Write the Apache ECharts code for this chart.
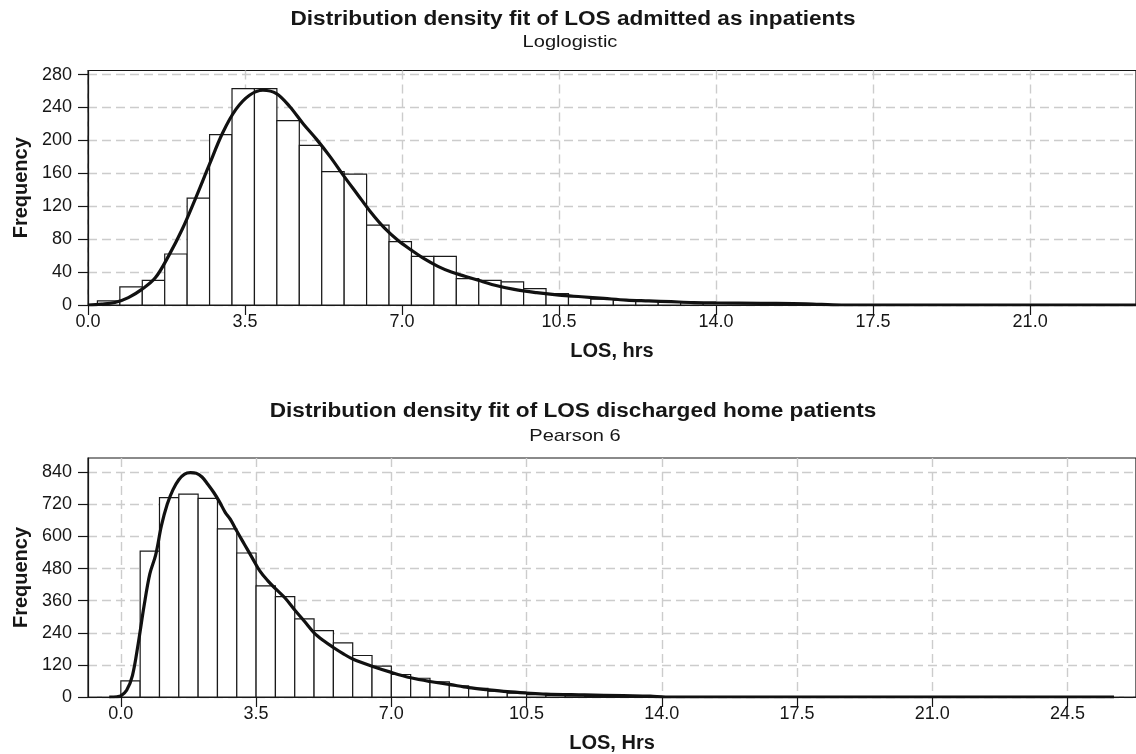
<!DOCTYPE html>
<html>
<head>
<meta charset="utf-8">
<script src="https://cdn.jsdelivr.net/npm/echarts@6/dist/echarts.min.js"></script>
<style>
html,body{margin:0;padding:0;background:#fff;}
#chart{width:1136px;height:754px;}
</style>
</head>
<body>
<div id="chart"></div>
<script>
// ---------- Data ----------
// Top panel: LOS admitted as inpatients (Loglogistic fit)
var topBinEdges = [0.21, 0.71, 1.21, 1.71, 2.21, 2.71, 3.21, 3.71, 4.21, 4.71, 5.21, 5.71, 6.21, 6.71,
                   7.21, 7.71, 8.21, 8.71, 9.21, 9.71, 10.21, 10.71, 11.21, 11.71, 12.21, 12.71, 13.21, 13.71];
var topCounts = [5, 22, 30, 62, 130, 207, 263, 263, 224, 194, 162, 159, 97, 77,
                 59, 59, 32, 30, 28, 20, 14, 10, 7, 6, 5, 4, 3];
var topFitX = [0, 0.3, 0.6, 0.9, 1.2, 1.5, 1.8, 2.1, 2.4, 2.7, 3.0, 3.3, 3.6, 3.9, 4.2, 4.5, 4.8, 5.1, 5.4, 5.7,
               6.0, 6.3, 6.6, 6.9, 7.2, 7.5, 7.8, 8.1, 8.4, 8.7, 9.0, 9.5, 10.0, 10.5, 11.0, 11.5, 12.0, 12.5,
               13.0, 13.5, 14.0, 15.0, 16.0, 16.8, 23.4];
var topFitY = [0, 1, 3, 9, 19, 33, 60, 92, 130, 170, 209, 238, 255, 261, 257, 241, 220, 201, 180, 157,
               135, 113, 94, 79, 67, 56, 47, 40, 35, 30, 25, 19, 15, 12, 10, 8, 6, 5,
               4, 3, 2.5, 2, 1.5, 0, 0];
var topXTicks = [0, 3.5, 7, 10.5, 14, 17.5, 21];
var topYTicks = [0, 40, 80, 120, 160, 200, 240, 280];

// Bottom panel: LOS discharged home patients (Pearson 6 fit)
var botBinEdges = [0, 0.5, 1, 1.5, 2, 2.5, 3, 3.5, 4, 4.5, 5, 5.5, 6, 6.5, 7, 7.5, 8, 8.5, 9, 9.5,
                   10, 10.5, 11, 11.5, 12, 12.5, 13, 13.5, 14];
var botCounts = [60, 545, 745, 758, 742, 628, 538, 415, 375, 292, 248, 202, 155, 115, 84, 70, 57, 42, 32, 22,
                 14, 9, 6, 5, 4, 3, 2, 2];
var botFitX = [-0.3, -0.1, 0, 0.15, 0.3, 0.45, 0.6, 0.75, 0.9, 1.05, 1.2, 1.35, 1.5, 1.65, 1.8, 1.95, 2.1, 2.25,
               2.4, 2.55, 2.7, 2.85, 3.0, 3.2, 3.4, 3.6, 3.8, 4.0, 4.25, 4.5, 4.75, 5.0, 5.25, 5.5, 5.75,
               6.0, 6.5, 7.0, 7.5, 8.0, 8.5, 9.0, 9.5, 10.0, 10.5, 11.0, 12.0, 13.0, 13.7, 14.1, 25.7];
var botFitY = [0, 1, 4, 25, 80, 200, 340, 460, 530, 640, 720, 775, 812, 833, 838, 836, 822, 795,
               765, 730, 690, 660, 620, 570, 520, 470, 435, 405, 370, 325, 283, 240, 210, 185, 162,
               142, 115, 92, 72, 58, 47, 35, 27, 20, 15, 11, 8, 5, 3, 0, 0];
var botXTicks = [0, 3.5, 7, 10.5, 14, 17.5, 21, 24.5];
var botYTicks = [0, 120, 240, 360, 480, 600, 720, 840];

var titles = ['Distribution density fit of LOS admitted as inpatients', 'Loglogistic',
              'Distribution density fit of LOS discharged home patients', 'Pearson 6'];

// ---------- Build ----------
function histData(edges, counts) {
  var out = [];
  for (var i = 0; i < counts.length; i++) out.push([edges[i], edges[i + 1], counts[i]]);
  return out;
}
function pairs(xs, ys) {
  var out = [];
  for (var i = 0; i < xs.length; i++) out.push([xs[i], ys[i]]);
  return out;
}
function renderBin(params, api) {
  var p0 = api.coord([api.value(0), 0]);
  var p1 = api.coord([api.value(1), api.value(2)]);
  return {
    type: 'rect',
    shape: { x: p0[0], y: p1[1], width: p1[0] - p0[0], height: p0[1] - p1[1] },
    style: { fill: '#ffffff', stroke: '#1a1a1a', lineWidth: 1.2 }
  };
}

var FONT = '"Liberation Sans", Arial, Helvetica, sans-serif';
var INK = '#161616';
var gridLine = { show: true, lineStyle: { color: '#cccccc', width: 1.4, type: [9, 5] } };

function xAxisCfg(gridIndex, min, max, ticks, name) {
  return {
    type: 'value', gridIndex: gridIndex, min: min, max: max,
    name: name, nameLocation: 'middle', nameGap: 36,
    nameTextStyle: { fontFamily: FONT, fontSize: 20, fontWeight: 'bold', color: INK },
    axisLine: { show: true, onZero: false, lineStyle: { color: INK, width: 1.2 } },
    axisTick: { show: true, length: 10, customValues: ticks, lineStyle: { color: INK, width: 1.2 } },
    axisLabel: { customValues: ticks, margin: 8, fontFamily: FONT, fontSize: 18, color: INK,
                 formatter: function (v) { return v.toFixed(1); } },
    splitLine: gridLine
  };
}
function yAxisCfg(gridIndex, max, ticks) {
  return {
    type: 'value', gridIndex: gridIndex, min: 0, max: max,
    name: 'Frequency', nameLocation: 'middle', nameGap: 57, nameRotate: 90,
    nameTextStyle: { fontFamily: FONT, fontSize: 20, fontWeight: 'bold', color: INK },
    axisLine: { show: true, onZero: false, lineStyle: { color: INK, width: 1.2 } },
    axisTick: { show: true, length: 10, customValues: ticks, lineStyle: { color: INK, width: 1.2 } },
    axisLabel: { customValues: ticks, margin: 16, fontFamily: FONT, fontSize: 18, color: INK },
    splitLine: gridLine
  };
}
function titleText(txt, x, y, bold, size, sx) {
  return {
    type: 'text', x: x, y: y, scaleX: sx, z: 10,
    style: { text: txt, fill: INK, textAlign: 'center', textVerticalAlign: 'middle',
             font: (bold ? 'bold ' : '') + size + 'px ' + FONT }
  };
}

var chart = echarts.init(document.getElementById('chart'), null, { renderer: 'canvas' });
chart.setOption({
  backgroundColor: '#ffffff',
  animation: false,
  graphic: [
    titleText(titles[0], 573, 19, true, 20, 1.13),
    titleText(titles[1], 570, 42, false, 17, 1.18),
    titleText(titles[2], 573, 411, true, 20, 1.13),
    titleText(titles[3], 575, 436, false, 17, 1.18)
  ],
  grid: [
    { left: 88, right: 0, top: 70.5, bottom: 449, show: true, borderColor: INK, borderWidth: 1.2, backgroundColor: 'transparent' },
    { left: 88, right: 0, top: 458, bottom: 56.5, show: true, borderColor: INK, borderWidth: 1.2, backgroundColor: 'transparent' }
  ],
  xAxis: [
    xAxisCfg(0, 0, 23.36, topXTicks, 'LOS, hrs'),
    xAxisCfg(1, -0.85, 26.27, botXTicks, 'LOS, Hrs')
  ],
  yAxis: [
    yAxisCfg(0, 285, topYTicks),
    yAxisCfg(1, 893, botYTicks)
  ],
  series: [
    { type: 'custom', xAxisIndex: 0, yAxisIndex: 0, renderItem: renderBin,
      encode: { x: [0, 1], y: 2 }, data: histData(topBinEdges, topCounts), z: 2 },
    { type: 'line', xAxisIndex: 0, yAxisIndex: 0, data: pairs(topFitX, topFitY), smooth: 0.35,
      showSymbol: false, symbol: 'none', lineStyle: { color: '#111', width: 3.2 }, z: 3 },
    { type: 'custom', xAxisIndex: 1, yAxisIndex: 1, renderItem: renderBin,
      encode: { x: [0, 1], y: 2 }, data: histData(botBinEdges, botCounts), z: 2 },
    { type: 'line', xAxisIndex: 1, yAxisIndex: 1, data: pairs(botFitX, botFitY), smooth: 0.35,
      showSymbol: false, symbol: 'none', lineStyle: { color: '#111', width: 3.2 }, z: 3 }
  ]
});
</script>
</body>
</html>
